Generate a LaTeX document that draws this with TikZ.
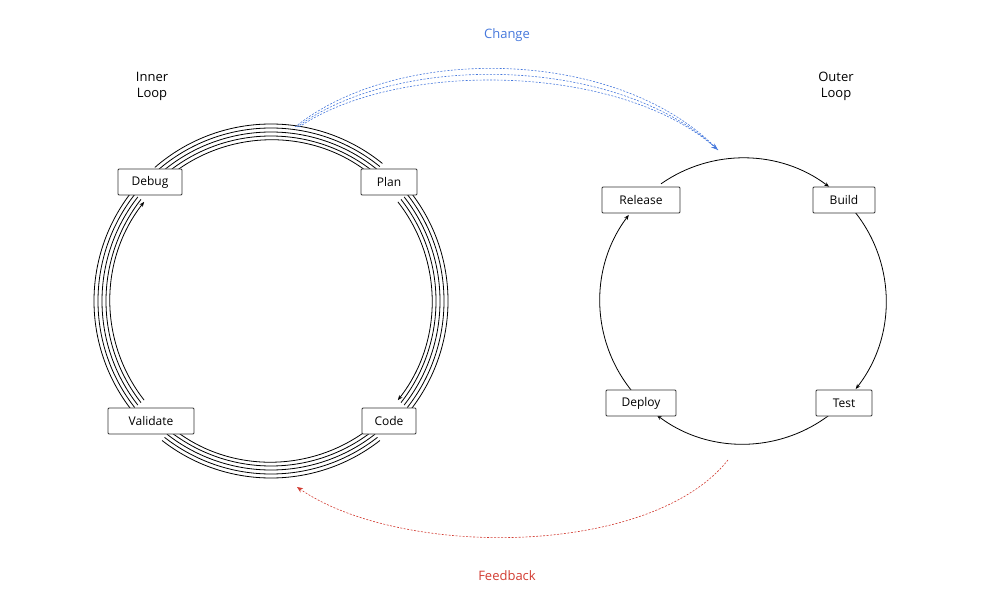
\documentclass[tikz,border=0pt]{standalone}
\usepackage{fontspec}
\setmainfont{Open Sans}
\usetikzlibrary{arrows.meta}
\begin{document}
\begin{tikzpicture}[x=1pt,y=1pt,
  box/.style={draw=black!80,rounded corners=1pt,fill=white,minimum height=26pt,inner sep=0pt,font=\fontsize{12}{14}\selectfont},
  lbl/.style={font=\fontsize{13}{16}\selectfont,align=center},
  arr/.style={-{Stealth[length=5pt,width=4pt]}},
  line width=0.8pt]
\useasboundingbox (0,0) rectangle (1003,608);
\coordinate (ic) at (271,307);
\coordinate (oc) at (743,307);
% inner loop arcs
\foreach \r in {165,169,173,177}{
  \draw ([shift={(131:\r)}]ic) arc[start angle=131,end angle=51,radius=\r];
  \draw ([shift={(38:\r)}]ic) arc[start angle=38,end angle=-38,radius=\r];
  \draw ([shift={(-52:\r)}]ic) arc[start angle=-52,end angle=-128,radius=\r];
  \draw ([shift={(-142:\r)}]ic) arc[start angle=-142,end angle=-218,radius=\r];
}
\draw[arr] ([shift={(131:161)}]ic) arc[start angle=131,end angle=51,radius=161];
\draw[arr] ([shift={(38:161)}]ic) arc[start angle=38,end angle=-38,radius=161];
\draw[arr] ([shift={(-52:161)}]ic) arc[start angle=-52,end angle=-128,radius=161];
\draw[arr] ([shift={(-142:161)}]ic) arc[start angle=-142,end angle=-218,radius=161];
% outer loop arcs
\draw[arr] ([shift={(125:143)}]oc) arc[start angle=125,end angle=53,radius=143];
\draw[arr] ([shift={(45:143)}]oc) arc[start angle=45,end angle=-38,radius=143];
\draw[arr] ([shift={(-45:143)}]oc) arc[start angle=-45,end angle=-127,radius=143];
\draw[arr] ([shift={(-135:143)}]oc) arc[start angle=-135,end angle=-217,radius=143];
% nodes
\node[box,minimum width=64pt] (debug) at (150,426) {Debug};
\node[box,minimum width=56pt] (plan) at (389,426) {Plan};
\node[box,minimum width=54pt] (code) at (389,187) {Code};
\node[box,minimum width=86pt] (validate) at (151,187) {Validate};
\node[box,minimum width=78pt] (release) at (641,408) {Release};
\node[box,minimum width=62pt] (build) at (844,408) {Build};
\node[box,minimum width=56pt] (test) at (844,205) {Test};
\node[box,minimum width=70pt] (deploy) at (641,205) {Deploy};
% labels
\node[lbl,text={rgb,255:red,70;green,120;blue,220}] (change) at (507,573) {Change};
\node[lbl,text={rgb,255:red,210;green,60;blue,50}] (feedback) at (507,32) {Feedback};
\node[lbl] (inner) at (152,522) {Inner\\Loop};
\node[lbl] (outer) at (836,522) {Outer\\Loop};
% change curves
\coordinate (cs) at (295,481);
\coordinate (ce) at (718,458);
\begin{scope}[draw={rgb,255:red,70;green,120;blue,220},line width=0.6pt,dash pattern=on 2pt off 1.5pt]
\draw (cs) .. controls (400,565) and (620,560) .. (ce);
\draw ([xshift=2pt]cs) .. controls (400,557) and (620,552) .. (ce);
\draw[-{Stealth[length=7pt,width=5pt,fill={rgb,255:red,70;green,120;blue,220}]}] ([xshift=4pt]cs) .. controls (400,549) and (620,544) .. (ce);
\end{scope}
% feedback curve
\coordinate (fs) at (728,148);
\coordinate (fe) at (297,121);
\draw[-{Stealth[length=6pt,width=5pt,fill={rgb,255:red,210;green,60;blue,50}]},draw={rgb,255:red,210;green,60;blue,50},line width=0.6pt,dash pattern=on 2pt off 1.5pt] (fs) .. controls (650,50) and (400,50) .. (fe);
\end{tikzpicture}
\end{document}
